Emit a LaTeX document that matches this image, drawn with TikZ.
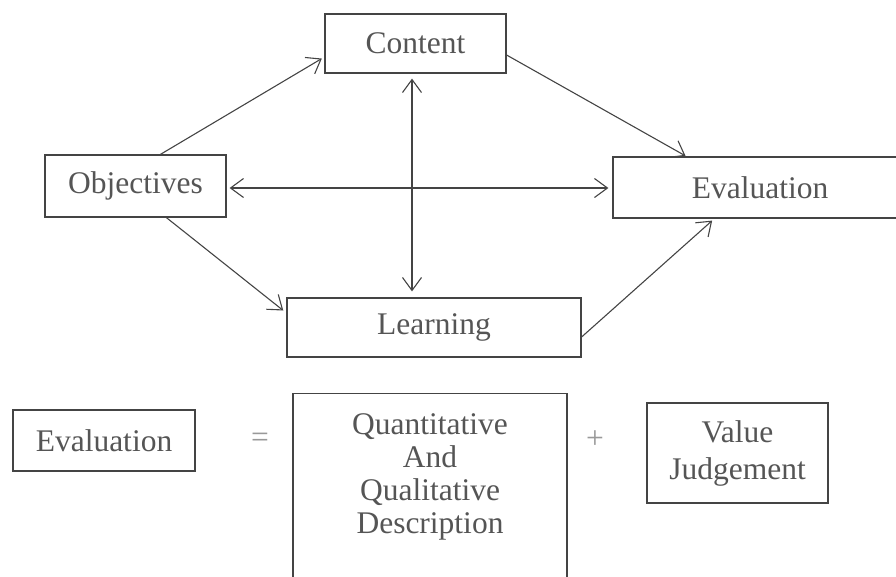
\documentclass[tikz,border=0pt]{standalone}
\usepackage{fontspec}
\setmainfont{Liberation Serif}
\usetikzlibrary{arrows.meta}
\definecolor{ink}{HTML}{444444}
\definecolor{txt}{HTML}{555555}
\definecolor{light}{HTML}{999999}
\tikzset{
  box/.style={draw=ink, line width=1.2pt, inner sep=0pt, text=txt, align=center,
    font=\fontsize{31.5}{35}\selectfont},
  plain/.style={inner sep=0pt, text=txt, align=center, font=\fontsize{31.5}{35}\selectfont},
  conn/.style={draw=ink, line width=1.1pt, -{Straight Barb[length=13pt,width=19pt,line width=1.1pt]}},
  bconn/.style={draw=ink, line width=1.1pt, {Straight Barb[length=13pt,width=19pt,line width=1.1pt]}-{Straight Barb[length=13pt,width=19pt,line width=1.1pt]}},
}
\begin{document}
\begin{tikzpicture}[x=1pt,y=-1pt]
\useasboundingbox (0,0) rectangle (896,576);
% top diagram
\node[box, minimum width=181pt, minimum height=59pt] (cont) at (415.5,43.5) {Content};
\node[box, minimum width=181pt, minimum height=62pt] (obj) at (135.5,186) {Objectives};
\node[box, minimum width=294pt, minimum height=61pt] (eval) at (760,187.5) {Evaluation};
\node[box, minimum width=294pt, minimum height=59pt] (learn) at (434,327.5) {Learning};

\draw[conn, shorten >=3pt] ([xshift=116pt]obj.north west) -- ([yshift=-13.5pt]cont.west);
\draw[conn, shorten >=1pt] ([yshift=-11.5pt]cont.east) -- ([xshift=74pt]eval.north west);
\draw[bconn, shorten <=3pt, shorten >=4pt] ([yshift=-2pt]obj.east) -- ([yshift=-0.5pt]eval.west);
\draw[bconn, shorten <=5pt, shorten >=6pt] ([xshift=-3.5pt]cont.south) -- ([xshift=-22pt]learn.north);
\draw[conn, shorten >=4pt] ([xshift=122pt]obj.south west) -- ([yshift=14.5pt]learn.west);
\draw[conn, shorten >=3pt] ([yshift=-9.5pt]learn.east) -- ([xshift=102pt]eval.south west);

% equation
\node[box, minimum width=182pt, minimum height=61pt] (ev2) at (104,440.5) {Evaluation};
\node[plain, text=light] (eq) at (260,440) {=};
\node[box, minimum width=274pt, minimum height=200pt, anchor=north] (qd) at (430,393) {};
\node[plain, font=\fontsize{31.5}{33}\selectfont] (qdt) at (430,477) {Quantitative\\And\\Qualitative\\Description};
\node[plain, text=light] (pl) at (595,440) {+};
\node[box, minimum width=181pt, minimum height=100pt, font=\fontsize{31.5}{37}\selectfont] (vj) at (737.5,453) {Value\\Judgement};
\end{tikzpicture}
\end{document}
